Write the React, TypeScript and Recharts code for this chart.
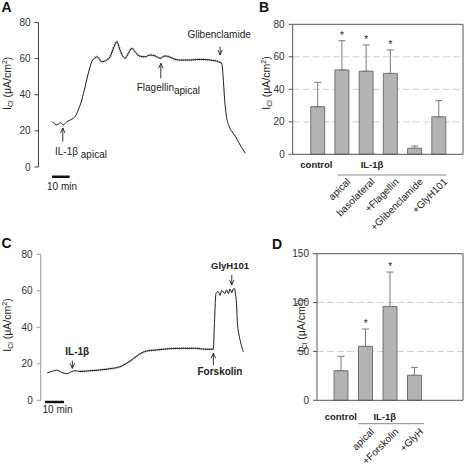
import React from "react";
import {
  LineChart,
  Line,
  XAxis,
  YAxis,
  BarChart,
  Bar,
  ErrorBar,
  ReferenceLine,
  ReferenceDot,
  CartesianGrid,
} from "recharts";

const FONT = "'Liberation Sans', Arial, Helvetica, sans-serif";
const INK = "#222";

// ---------- Panel A: trace (time in min, I_Cl in µA/cm²)
const timeA = [0, 2.7, 4.9, 6.4, 8.4, 11.2, 13.1, 14.9, 16.9, 18.8, 20.6, 22.6, 24.4, 25.7, 28.2, 31.1, 33, 35.2, 36.8, 38.6, 41.5, 43.4, 45.3, 47.2, 49.5, 52.8, 55.7, 58.5, 61.4, 64.2, 67, 69.9, 72.7, 78.4, 84.1, 89.8, 94.5, 96.4, 97.2, 98, 99.1, 100.6, 102.3, 104.1, 106.1, 108, 109.8];
const currentA = [25.1, 23.3, 24.5, 23.3, 25.1, 26.4, 27.9, 31.6, 37.1, 44.5, 51.9, 58.3, 60.5, 61, 58.3, 59.2, 61, 66.6, 69.4, 64.8, 60.2, 63, 65.7, 63.8, 61.5, 61, 62, 61.5, 60.2, 61.5, 60.8, 59.6, 59.2, 59.2, 59.6, 59.2, 58.3, 57.4, 50, 38, 28, 22.5, 19.5, 17, 13.5, 10.3, 7.6];
const yTicksA = [0, 20, 40, 60, 80];
const hatchA = [24, 96.4];

// ---------- Panel C: trace
const timeC = [1.2, 3.5, 6.2, 8.8, 11.4, 14.1, 15.8, 18.4, 23.7, 28.9, 34.2, 39.5, 44.7, 47.4, 50, 53.5, 57.9, 62.3, 71.1, 79.8, 83.3, 88.6, 89.1, 90, 91.2, 92.1, 93, 94.7, 95.6, 96.5, 97.4, 98.3, 99.1, 99.7, 100.3, 100.8, 101.3, 102.3, 103.5, 104.4];
const currentC = [15.1, 15.8, 16.5, 15.3, 14.6, 15.8, 16.2, 15.8, 16.2, 16.6, 17.3, 18.4, 21.5, 23.5, 25.5, 27, 27.5, 28, 28.5, 28.5, 28, 28, 40, 58.6, 59.5, 57.5, 60.2, 58.5, 60.5, 58.5, 61, 59, 61, 61.2, 58, 53, 42, 35, 29.4, 26.6];
const yTicksC = [0, 20, 40, 60, 80];
const hatchC = [18, 88.6];

const scaleBarMinutes = 10;

// ---------- Panel B: bars
const categoriesB = ["control", "apical", "basolateral", "+Flagellin", "+Glibenclamide", "+GlyH101"];
const meansB = [29.3, 51.9, 51.1, 49.8, 3.7, 23.1];
const errorsB = [15, 18, 16.2, 14.4, 1.4, 9.9];
const signifB = [false, true, true, true, false, false];
const yTicksB = [0, 20, 40, 60, 80];
const gridB = [20, 40, 60];

// ---------- Panel D: bars
const categoriesD = ["control", "apical", "+Forskolin", "+GlyH"];
const meansD = [30.3, 55.2, 96, 25.6];
const errorsD = [14.7, 17.7, 35.2, 8.1];
const signifD = [false, true, true, false];
const yTicksD = [0, 50, 100, 150];
const gridD = [50, 100];

const groupLabels = ["control", "IL-1β"];

// ---------- helpers
const arrowShape = (p: any) => {
  const { x1, y1, x2, y2 } = p;
  const s = y2 < y1 ? 1 : -1;
  return (
    <g>
      <line x1={x1} y1={y1} x2={x2} y2={y2} stroke={INK} strokeWidth={0.9} />
      <path
        d={`M${x2 - 2.2},${y2 + s * 5} L${x2},${y2} L${x2 + 2.2},${y2 + s * 5}`}
        fill="none"
        stroke={INK}
        strokeWidth={0.9}
      />
    </g>
  );
};

const textShape =
  (content: React.ReactNode, anchor: string, bold = false, size = 10, dy = 0) =>
  (p: any) =>
    (
      <text
        x={p.cx}
        y={p.cy + dy}
        textAnchor={anchor}
        fontFamily={FONT}
        fontSize={size}
        fontWeight={bold ? "bold" : "normal"}
        fill={INK}
      >
        {content}
      </text>
    );

const yLabel = (bx: number, cy: number) => () =>
  (
    <text
      transform={`translate(${bx},${cy}) rotate(-90)`}
      textAnchor="middle"
      fontFamily={FONT}
      fontSize={10.5}
      fill={INK}
    >
      I
      <tspan fontSize={7} dy={2}>
        Cl
      </tspan>
      <tspan dy={-2}> (μA/cm</tspan>
      <tspan fontSize={7} dy={-4}>
        2
      </tspan>
      <tspan dy={4}>)</tspan>
    </text>
  );

const tickStyle = { fill: "#333", fontSize: 10, fontFamily: FONT };

const buildTrace = (time: number[], current: number[], range: number[]) =>
  time.map((t, i) => ({
    t,
    v: current[i],
    h: t >= range[0] && t <= range[1] ? current[i] : null,
  }));

// ---------- Trace panels
function PanelA() {
  const data = buildTrace(timeA, currentA, hatchA);
  return (
    <LineChart width={260} height={233} data={data} margin={{ top: 22.5, right: 8, bottom: 66, left: 0 }}>
      <XAxis dataKey="t" type="number" domain={[-7.7, 113.6]} hide allowDataOverflow />
      <YAxis
        type="number"
        domain={[0, 80]}
        ticks={yTicksA}
        interval={0}
        width={38.5}
        tickSize={4}
        tickMargin={4}
        axisLine={{ stroke: "#444" }}
        tickLine={{ stroke: "#444" }}
        tick={tickStyle}
        label={yLabel(10.5, 83.3)}
      />
      <Line dataKey="h" type="monotone" stroke="#8c8c8c" strokeWidth={2.6} strokeDasharray="0.7 1.3" dot={false} isAnimationActive={false} connectNulls={false} />
      <Line dataKey="v" type="monotone" stroke="#1a1a1a" strokeWidth={1} dot={false} isAnimationActive={false} />
      <ReferenceLine segment={[{ x: 0, y: -5.4 }, { x: scaleBarMinutes, y: -5.4 }]} stroke="#111" strokeWidth={2.5} ifOverflow="visible" />
      <ReferenceDot x={5.7} y={-12.5} r={0} ifOverflow="visible" shape={textShape("10 min", "middle")} />
      <ReferenceLine segment={[{ x: 6.1, y: 14 }, { x: 6.1, y: 21.6 }]} ifOverflow="visible" shape={arrowShape} />
      <ReferenceLine segment={[{ x: 61.8, y: 49.1 }, { x: 61.8, y: 57.4 }]} ifOverflow="visible" shape={arrowShape} />
      <ReferenceLine segment={[{ x: 95.5, y: 66.6 }, { x: 95.5, y: 62 }]} ifOverflow="visible" shape={arrowShape} />
      <ReferenceDot
        x={1.7}
        y={6.5}
        r={0}
        ifOverflow="visible"
        shape={textShape(
          <>
            IL-1β<tspan dy={3}> apical</tspan>
          </>,
          "start"
        )}
      />
      <ReferenceDot
        x={48.1}
        y={42.1}
        r={0}
        ifOverflow="visible"
        shape={textShape(
          <>
            Flagellin<tspan dy={3}>apical</tspan>
          </>,
          "start"
        )}
      />
      <ReferenceDot x={94.9} y={71.2} r={0} ifOverflow="visible" shape={textShape("Glibenclamide", "middle")} />
    </LineChart>
  );
}

function PanelC() {
  const data = buildTrace(timeC, currentC, hatchC);
  return (
    <LineChart width={260} height={233} data={data} margin={{ top: 21.3, right: 6, bottom: 65.7, left: 0 }}>
      <XAxis dataKey="t" type="number" domain={[-2.26, 110]} hide allowDataOverflow />
      <YAxis
        type="number"
        domain={[0, 80]}
        ticks={yTicksC}
        interval={0}
        width={40.7}
        tickSize={4}
        tickMargin={4}
        axisLine={{ stroke: "#999" }}
        tickLine={{ stroke: "#999" }}
        tick={tickStyle}
        label={yLabel(11, 92)}
      />
      <Line dataKey="h" type="monotone" stroke="#8c8c8c" strokeWidth={2.6} strokeDasharray="0.7 1.3" dot={false} isAnimationActive={false} connectNulls={false} />
      <Line dataKey="v" type="monotone" stroke="#1a1a1a" strokeWidth={1} dot={false} isAnimationActive={false} />
      <ReferenceLine segment={[{ x: 0, y: -0.93 }, { x: scaleBarMinutes, y: -0.93 }]} stroke="#111" strokeWidth={2.5} ifOverflow="visible" />
      <ReferenceDot x={6.6} y={-7.1} r={0} ifOverflow="visible" shape={textShape("10 min", "middle")} />
      <ReferenceLine segment={[{ x: 14.4, y: 21.7 }, { x: 14.4, y: 17.5 }]} ifOverflow="visible" shape={arrowShape} />
      <ReferenceLine segment={[{ x: 88.6, y: 19.3 }, { x: 88.6, y: 25.8 }]} ifOverflow="visible" shape={arrowShape} />
      <ReferenceLine segment={[{ x: 98.3, y: 68.7 }, { x: 98.3, y: 63.2 }]} ifOverflow="visible" shape={arrowShape} />
      <ReferenceDot x={17} y={24.7} r={0} ifOverflow="visible" shape={textShape("IL-1β", "middle", true, 10)} />
      <ReferenceDot x={92.1} y={13.7} r={0} ifOverflow="visible" shape={textShape("Forskolin", "middle", true, 10)} />
      <ReferenceDot x={97.4} y={72.2} r={0} ifOverflow="visible" shape={textShape("GlyH101", "middle", true, 9.5)} />
    </LineChart>
  );
}

// ---------- Bar panels
type TickCfg = {
  ctrlDx: number;
  groupDy: number;
  groupDx: number;
  lineDy: number;
  lineX1: number;
  lineX2: number;
  rotDx: number;
  rotDy: number;
};

const makeTick = (cfg: TickCfg) => (props: any) => {
  const { x, y, index, payload } = props;
  if (index === 0) {
    return (
      <text x={x + cfg.ctrlDx} y={y + cfg.groupDy} textAnchor="middle" fontFamily={FONT} fontSize={9.5} fontWeight="bold" fill={INK}>
        {groupLabels[0]}
      </text>
    );
  }
  const rot = (
    <text
      transform={`translate(${x + cfg.rotDx},${y + cfg.rotDy}) rotate(-45)`}
      textAnchor="end"
      fontFamily={FONT}
      fontSize={10}
      fill={INK}
    >
      {payload.value}
    </text>
  );
  if (index === 1) {
    return (
      <g>
        {rot}
        <text x={x + cfg.groupDx} y={y + cfg.groupDy} textAnchor="middle" fontFamily={FONT} fontSize={9.5} fontWeight="bold" fill={INK}>
          {groupLabels[1]}
        </text>
        <line x1={x + cfg.lineX1} x2={x + cfg.lineX2} y1={y + cfg.lineDy} y2={y + cfg.lineDy} stroke="#888" strokeWidth={1} />
      </g>
    );
  }
  return rot;
};

const starShape = (p: any) => (
  <text x={p.cx} y={p.cy - 2} textAnchor="middle" fontFamily={FONT} fontSize={10} fill={INK}>
    *
  </text>
);

type BarPanelProps = {
  categories: string[];
  means: number[];
  errors: number[];
  signif: boolean[];
  yTicks: number[];
  grid: number[];
  yMax: number;
  yAxisWidth: number;
  top: number;
  xAxisHeight: number;
  padding: { left: number; right: number };
  tickCfg: TickCfg;
  labelPos: [number, number];
};

function BarPanel(p: BarPanelProps) {
  const data = p.categories.map((name, i) => ({
    name,
    mean: p.means[i],
    err: [0, p.errors[i]],
    top: p.means[i] + p.errors[i],
  }));
  return (
    <BarChart width={232} height={233} data={data} margin={{ top: p.top, right: 0, bottom: 0, left: 0 }}>
      <CartesianGrid vertical={false} horizontalValues={p.grid} stroke="#cfcfcf" strokeDasharray="7 3" />
      <XAxis
        dataKey="name"
        type="category"
        interval={0}
        height={p.xAxisHeight}
        padding={p.padding}
        tickLine={false}
        tickSize={0}
        tickMargin={0}
        axisLine={{ stroke: "#555" }}
        tick={makeTick(p.tickCfg)}
      />
      <YAxis
        type="number"
        domain={[0, p.yMax]}
        ticks={p.yTicks}
        interval={0}
        width={p.yAxisWidth}
        tickSize={4}
        tickMargin={4}
        axisLine={{ stroke: "#555" }}
        tickLine={{ stroke: "#555" }}
        tick={tickStyle}
        label={yLabel(p.labelPos[0], p.labelPos[1])}
      />
      <YAxis yAxisId="frame" orientation="right" width={1} domain={[0, 1]} tick={false} tickLine={false} axisLine={{ stroke: "#555" }} />
      <ReferenceLine y={p.yMax} stroke="#555" strokeWidth={1} />
      <Bar dataKey="mean" fill="#b3b3b3" stroke="#5a5a5a" strokeWidth={0.8} barSize={14} isAnimationActive={false}>
        <ErrorBar dataKey="err" direction="y" width={3.5} stroke="#7a7a7a" strokeWidth={1} />
      </Bar>
      {data.map((d, i) =>
        p.signif[i] ? (
          <ReferenceDot key={d.name} x={d.name} y={d.top} r={0} ifOverflow="visible" shape={starShape} />
        ) : null
      )}
    </BarChart>
  );
}

export default function App() {
  return (
    <div
      style={{
        position: "absolute",
        left: 0,
        top: 0,
        width: 464,
        height: 466,
        background: "#fff",
        overflow: "hidden",
        fontFamily: FONT,
      }}
    >
      <div style={{ position: "absolute", left: 0, top: 0 }}>
        <PanelA />
      </div>
      <div style={{ position: "absolute", left: 0, top: 233 }}>
        <PanelC />
      </div>
      <div style={{ position: "absolute", left: 232, top: 0 }}>
        <BarPanel
          categories={categoriesB}
          means={meansB}
          errors={errorsB}
          signif={signifB}
          yTicks={yTicksB}
          grid={gridB}
          yMax={80}
          yAxisWidth={60.7}
          top={24.3}
          xAxisHeight={78.7}
          padding={{ left: 13, right: 12 }}
          tickCfg={{ ctrlDx: -1.4, groupDy: 14, groupDx: 30, lineDy: 20.7, lineX1: -4, lineX2: 104.4, rotDx: 9, rotDy: 28 }}
          labelPos={[37.5, 83]}
        />
      </div>
      <div style={{ position: "absolute", left: 232, top: 233 }}>
        <BarPanel
          categories={categoriesD}
          means={meansD}
          errors={errorsD}
          signif={signifD}
          yTicks={yTicksD}
          grid={gridD}
          yMax={150}
          yAxisWidth={85}
          top={20.7}
          xAxisHeight={65.7}
          padding={{ left: 12, right: 36 }}
          tickCfg={{ ctrlDx: -0.5, groupDy: 19.5, groupDx: 19, lineDy: 23.4, lineX1: -7.5, lineX2: 58.5, rotDx: 9, rotDy: 32 }}
          labelPos={[73, 92.5]}
        />
      </div>
      <svg width={464} height={466} style={{ position: "absolute", left: 0, top: 0, pointerEvents: "none" }}>
        <g fontFamily={FONT} fontWeight="bold" fontSize={14} fill="#111">
          <text x={1.5} y={11.7}>A</text>
          <text x={259} y={11.7}>B</text>
          <text x={1.5} y={248}>C</text>
          <text x={272} y={249}>D</text>
        </g>
      </svg>
    </div>
  );
}
